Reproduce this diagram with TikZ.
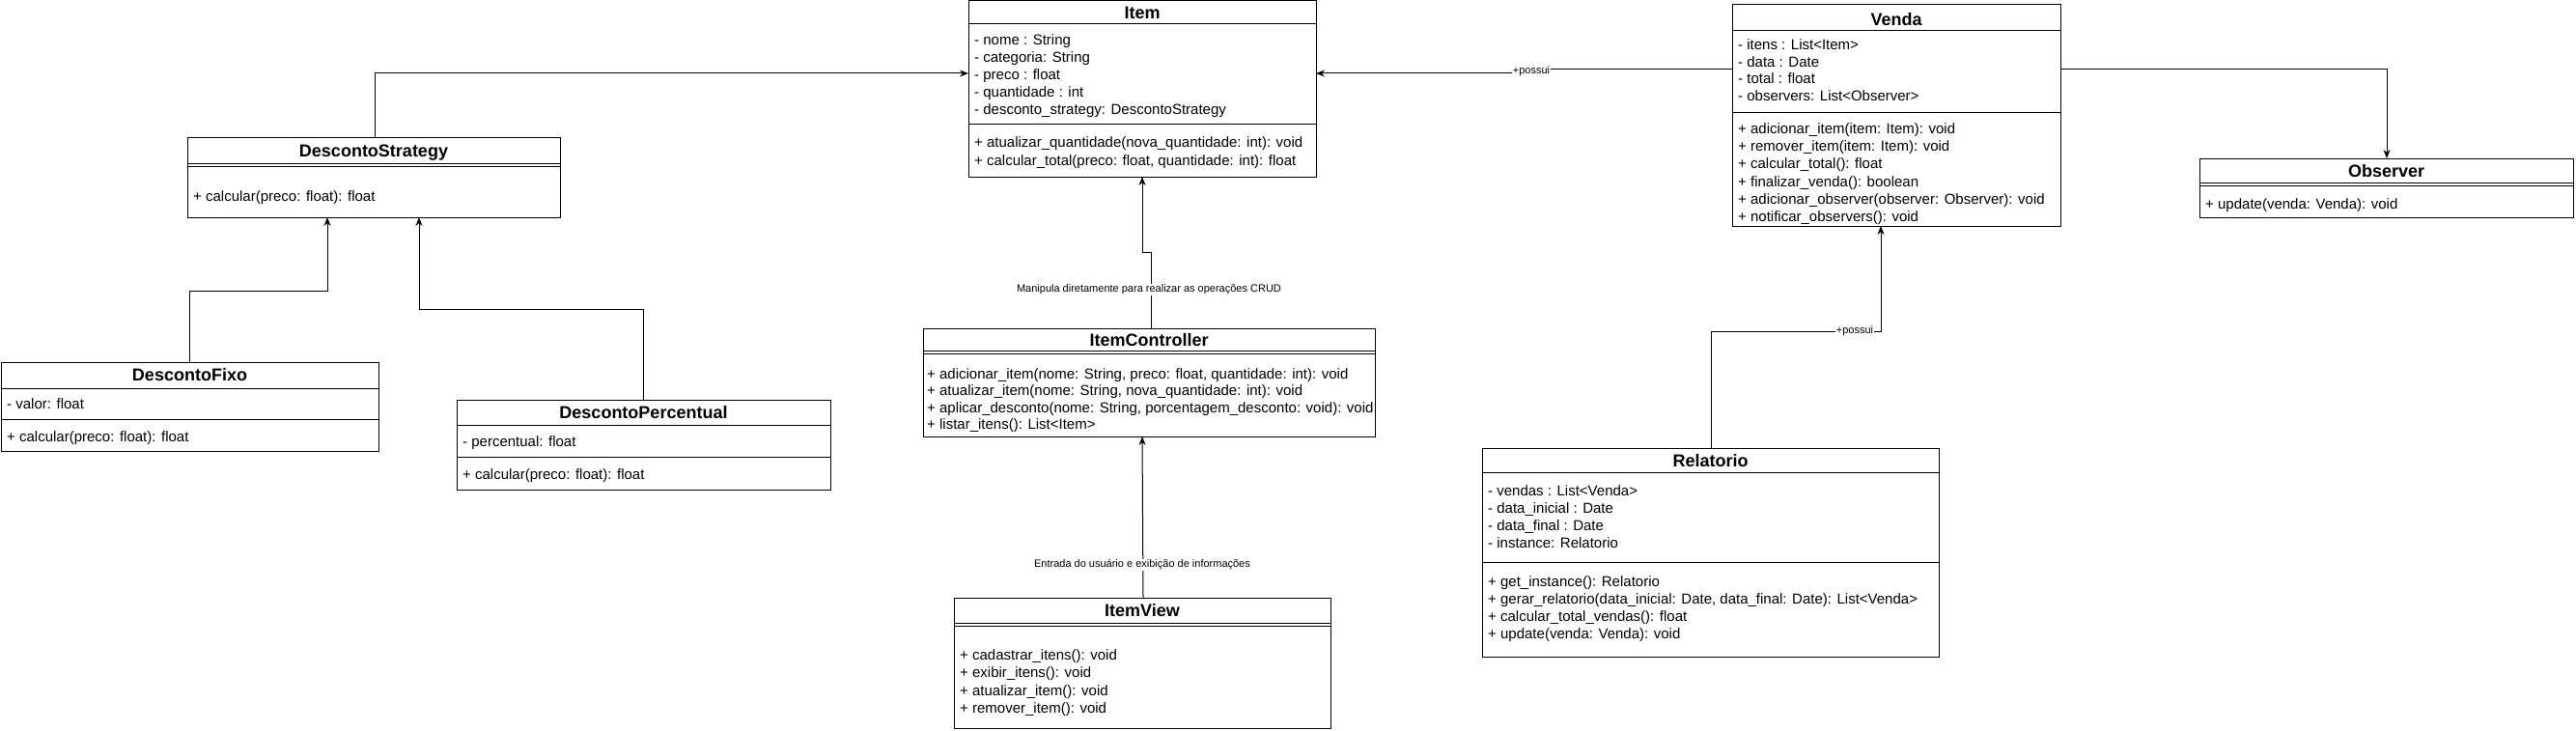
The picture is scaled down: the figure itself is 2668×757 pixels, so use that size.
\documentclass[tikz,border=0pt]{standalone}
\usepackage{fontspec}
\setmainfont{Liberation Sans}
\usetikzlibrary{arrows.meta}
\tikzset{
  box/.style={draw, line width=1pt, inner sep=0pt, outer sep=0pt, anchor=north west, fill=white},
  mtext/.style={anchor=west, inner sep=0pt, text height=11pt, text depth=1pt, font=\fontsize{15}{18}\selectfont},
  ttl/.style={inner sep=0pt, text height=13pt, text depth=0pt, font=\fontsize{18}{22}\selectfont\bfseries},
  conn/.style={draw, line width=1pt, -{Stealth[length=9pt,width=7pt]}},
  lbl/.style={fill=white, inner sep=1pt, font=\fontsize{11}{13}\selectfont},
  sep/.style={line width=1pt}
}
\newcommand\hsep[2]{\draw[sep] (#1.west |- 0,#2) -- (#1.east |- 0,#2);}
\begin{document}
\begin{tikzpicture}[x=1pt,y=-1pt]
\fill[white] (0,0) rectangle (2668,757);
\useasboundingbox (0,0) rectangle (2668,757);

% ---------- Item
\node[box, minimum width=360pt, minimum height=182pt] (item) at (1003,1) {};
\hsep{item}{25}\hsep{item}{129}
\node[ttl] (itemT) at (1183,13) {Item};
\node[mtext] (itemA1) at (1009,42) {- nome : String};
\node[mtext] (itemA2) at (1009,60) {- categoria: String};
\node[mtext] (itemA3) at (1009,78) {- preco : float};
\node[mtext] (itemA4) at (1009,96) {- quantidade : int};
\node[mtext] (itemA5) at (1009,114) {- desconto\_strategy: DescontoStrategy};
\node[mtext] (itemM1) at (1009,148) {+ atualizar\_quantidade(nova\_quantidade: int): void};
\node[mtext] (itemM2) at (1009,166) {+ calcular\_total(preco: float, quantidade: int): float};

% ---------- Venda
\node[box, minimum width=340pt, minimum height=229pt] (venda) at (1794,5) {};
\hsep{venda}{32}\hsep{venda}{117}
\node[ttl] (vendaT) at (1964,20) {Venda};
\node[mtext] (vendaA1) at (1800,47) {- itens : List<Item>};
\node[mtext] (vendaA2) at (1800,64.5) {- data : Date};
\node[mtext] (vendaA3) at (1800,82) {- total : float};
\node[mtext] (vendaA4) at (1800,99.5) {- observers: List<Observer>};
\node[mtext] (vendaM1) at (1800,134) {+ adicionar\_item(item: Item): void};
\node[mtext] (vendaM2) at (1800,152) {+ remover\_item(item: Item): void};
\node[mtext] (vendaM3) at (1800,170) {+ calcular\_total(): float};
\node[mtext] (vendaM4) at (1800,188) {+ finalizar\_venda(): boolean};
\node[mtext] (vendaM5) at (1800,206) {+ adicionar\_observer(observer: Observer): void};
\node[mtext] (vendaM6) at (1800,224) {+ notificar\_observers(): void};

% ---------- Observer
\node[box, minimum width=387pt, minimum height=61pt] (observer) at (2278,164) {};
\hsep{observer}{189}\hsep{observer}{192}
\node[ttl] (observerT) at (2471.5,176.5) {Observer};
\node[mtext] (observerM1) at (2284,211) {+ update(venda: Venda): void};

% ---------- DescontoStrategy
\node[box, minimum width=386pt, minimum height=82pt] (dstrat) at (194,143) {};
\hsep{dstrat}{169}\hsep{dstrat}{172}
\node[ttl] (dstratT) at (387,156) {DescontoStrategy};
\node[mtext] (dstratM1) at (200,203) {+ calcular(preco: float): float};

% ---------- DescontoFixo
\node[box, minimum width=391pt, minimum height=92pt] (dfixo) at (1,375) {};
\hsep{dfixo}{402}\hsep{dfixo}{434}
\node[ttl] (dfixoT) at (196.5,388) {DescontoFixo};
\node[mtext] (dfixoA1) at (7,418) {- valor: float};
\node[mtext] (dfixoM1) at (7,452) {+ calcular(preco: float): float};

% ---------- DescontoPercentual
\node[box, minimum width=387pt, minimum height=93pt] (dperc) at (473,414) {};
\hsep{dperc}{440}\hsep{dperc}{473}
\node[ttl] (dpercT) at (666.5,427) {DescontoPercentual};
\node[mtext] (dpercA1) at (479,457) {- percentual: float};
\node[mtext] (dpercM1) at (479,491) {+ calcular(preco: float): float};

% ---------- ItemController
\node[box, minimum width=468pt, minimum height=112pt] (ictrl) at (956,340) {};
\hsep{ictrl}{363}\hsep{ictrl}{366}
\node[ttl] (ictrlT) at (1190,351.5) {ItemController};
\node[mtext] (ictrlM1) at (960,387) {+ adicionar\_item(nome: String, preco: float, quantidade: int): void};
\node[mtext] (ictrlM2) at (960,404.5) {+ atualizar\_item(nome: String, nova\_quantidade: int): void};
\node[mtext] (ictrlM3) at (960,422) {+ aplicar\_desconto(nome: String, porcentagem\_desconto: void): void};
\node[mtext] (ictrlM4) at (960,439.5) {+ listar\_itens(): List<Item>};

% ---------- ItemView
\node[box, minimum width=390pt, minimum height=135pt] (iview) at (988,619) {};
\hsep{iview}{645}\hsep{iview}{648}
\node[ttl] (iviewT) at (1183,632) {ItemView};
\node[mtext] (iviewM1) at (994,678) {+ cadastrar\_itens(): void};
\node[mtext] (iviewM2) at (994,696.5) {+ exibir\_itens(): void};
\node[mtext] (iviewM3) at (994,715) {+ atualizar\_item(): void};
\node[mtext] (iviewM4) at (994,733) {+ remover\_item(): void};

% ---------- Relatorio
\node[box, minimum width=473pt, minimum height=216pt] (relat) at (1535,464) {};
\hsep{relat}{489}\hsep{relat}{582}
\node[ttl] (relatT) at (1771.5,476.5) {Relatorio};
\node[mtext] (relatA1) at (1541,508) {- vendas : List<Venda>};
\node[mtext] (relatA2) at (1541,526) {- data\_inicial : Date};
\node[mtext] (relatA3) at (1541,544) {- data\_final : Date};
\node[mtext] (relatA4) at (1541,562) {- instance: Relatorio};
\node[mtext] (relatM1) at (1541,602) {+ get\_instance(): Relatorio};
\node[mtext] (relatM2) at (1541,620) {+ gerar\_relatorio(data\_inicial: Date, data\_final: Date): List<Venda>};
\node[mtext] (relatM3) at (1541,638) {+ calcular\_total\_vendas(): float};
\node[mtext] (relatM4) at (1541,656) {+ update(venda: Venda): void};

% ---------- connectors
\draw[conn] (venda.west |- 0,72) -- (1586,72) -- (1586,76) -- (item.east |- 0,76);
\draw[conn] (dstrat.north -| 388,0) |- (item.west |- 0,76);
\draw[conn] (venda.east |- 0,72) -| (observer.north -| 2472,0);
\draw[conn] (dfixo.north) |- (339,301) -- (dstrat.south -| 339,0);
\draw[conn] (dperc.north) |- (434,320) -- (dstrat.south -| 434,0);
\draw[conn] (ictrl.north -| 1192,0) -- (1192,261) -- (1183,261) -- (item.south -| 1183,0);
\draw[conn] (iview.north -| 1184,0) -- (ictrl.south -| 1183,0);
\draw[conn] (relat.north -| 1772,0) |- (1948,343) -- (venda.south -| 1948,0);

% ---------- connector labels
\node[lbl] (lblPossui1) at (1586,74) {+possui};
\node[lbl] (lblCrud) at (1190,300) {Manipula diretamente para realizar as operações CRUD};
\node[lbl] (lblView) at (1183,585) {Entrada do usuário e exibição de informações};
\node[lbl] (lblPossui2) at (1921,343) {+possui};
\end{tikzpicture}
\end{document}
